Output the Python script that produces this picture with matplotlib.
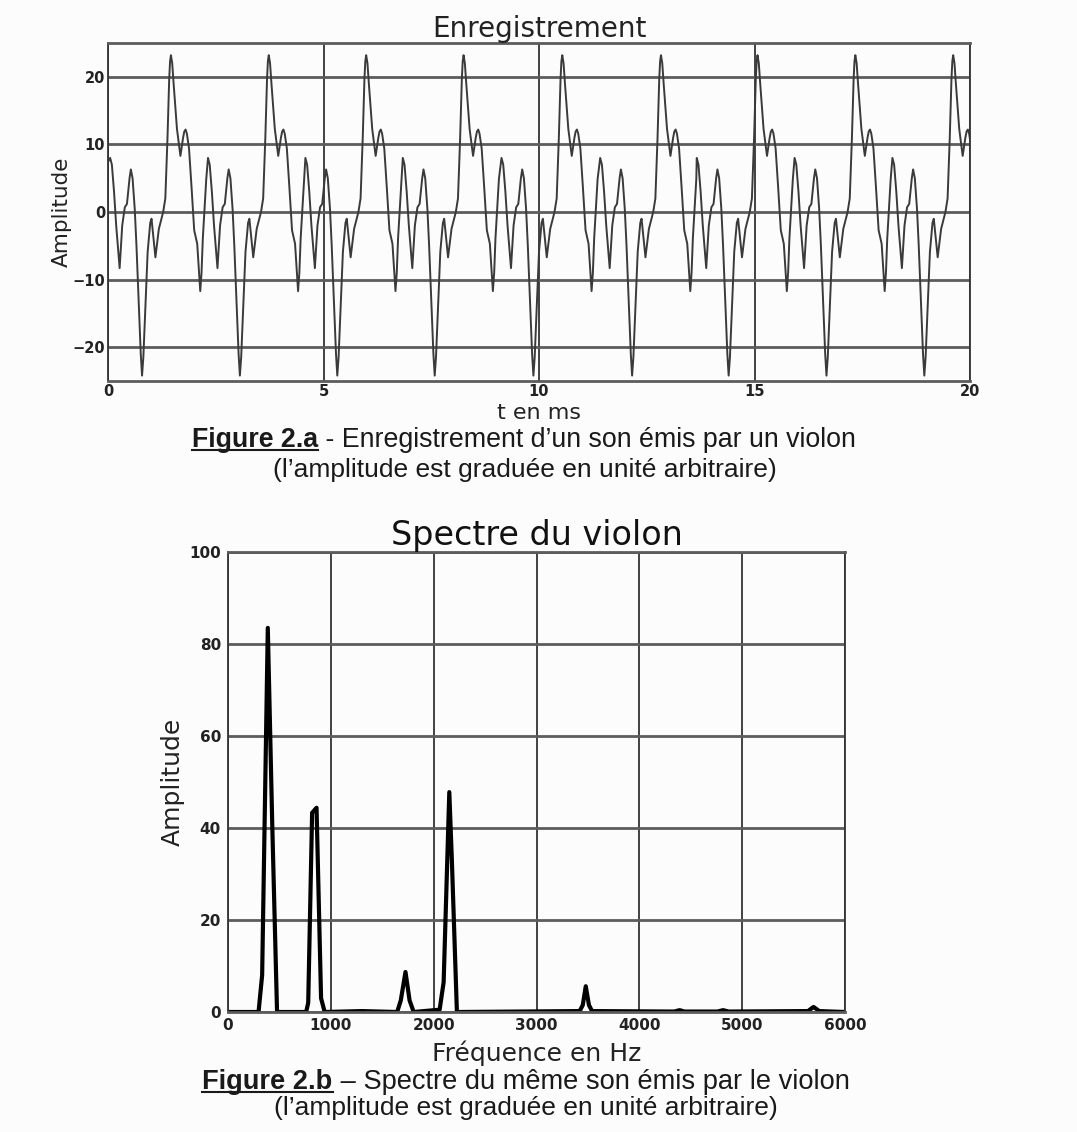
import matplotlib
matplotlib.use("Agg")
import matplotlib.pyplot as plt
from matplotlib.lines import Line2D
import numpy as np

# --- Figure 2.a : enregistrement (one period) ---
# times of the big positive peak of each period (ms)
peak_times = [1.46, 3.73, 5.99, 8.25, 10.54, 12.83, 15.07, 17.34, 19.61]
# shape of one period, offsets relative to the big peak (ms) and amplitude
period_offsets = [-1.41, -1.37, -1.32, -1.27, -1.19, -1.13, -1.07, -1.02, -0.96,
                  -0.93, -0.89, -0.84, -0.80, -0.74, -0.70, -0.67, -0.64, -0.60,
                  -0.54, -0.48, -0.45, -0.41, -0.36, -0.28, -0.18, -0.13, -0.08,
                  -0.04, -0.02, 0.00, 0.03, 0.06, 0.14, 0.22, 0.25, 0.28, 0.31,
                  0.34, 0.37, 0.42, 0.48, 0.54, 0.61, 0.68, 0.71, 0.74, 0.82]
period_values = [8.0, 7.0, 3.0, -2.0, -8.3, -2.0, 0.7, 1.2, 5.0,
                 6.3, 5.0, 0.5, -4.9, -14.8, -21.0, -24.2, -21.5, -15.3,
                 -5.9, -1.6, -1.0, -3.5, -6.7, -2.5, 0.0, 2.0, 10.9,
                 19.7, 22.3, 23.2, 22.0, 19.2, 12.3, 8.3, 9.6, 10.9, 11.9,
                 12.2, 11.6, 9.4, 3.5, -2.7, -4.7, -11.7, -9.0, -3.9, 4.9]
t_start, y_start = 0.0, 7.4

# --- Figure 2.b : spectre ---
freq = [0, 297, 332, 387, 430, 477, 760, 780, 818, 861, 905, 940, 1300,
        1645, 1680, 1726, 1766, 1806, 2058, 2097, 2152, 2177, 2226,
        3420, 3450, 3479, 3510, 3540, 4340, 4391, 4440, 4760, 4814, 4870,
        5640, 5694, 5750, 6000]
amp = [0, 0, 8, 83.5, 41, 0, 0, 2, 43.3, 44.4, 3, 0, 0.2,
       0, 2.5, 8.7, 2.5, 0, 0.5, 6.5, 47.8, 33, 0,
       0.2, 1.5, 5.6, 1.5, 0.2, 0.1, 0.4, 0.1, 0.1, 0.4, 0.1,
       0.2, 1.1, 0.2, 0]

t_ticks = [0, 5, 10, 15, 20]
a_ticks = [-20, -10, 0, 10, 20]
f_ticks = [0, 1000, 2000, 3000, 4000, 5000, 6000]
s_ticks = [0, 20, 40, 60, 80, 100]

W, H = 1077, 1132
BG = '#fcfcfc'
HGRID = '#5c5c5c'
VGRID = '#333333'

fig = plt.figure(figsize=(W / 100, H / 100), dpi=100, facecolor=BG)


def style_axes(ax, tick_size):
    ax.set_facecolor(BG)
    ax.grid(True, axis='y', color=HGRID, lw=2.0)
    ax.grid(True, axis='x', color=VGRID, lw=1.3)
    ax.set_axisbelow(True)
    for side in ('top', 'bottom'):
        ax.spines[side].set_color(HGRID)
        ax.spines[side].set_linewidth(2.0)
    for side in ('left', 'right'):
        ax.spines[side].set_color(VGRID)
        ax.spines[side].set_linewidth(1.3)
    ax.tick_params(length=0, labelsize=tick_size, colors='#222222')
    for lab in ax.get_xticklabels() + ax.get_yticklabels():
        lab.set_fontweight('bold')


# top chart
ax1 = fig.add_axes([108 / W, 1 - 381 / H, 862 / W, 338 / H])
t = [t_start] + list(np.concatenate([p + np.array(period_offsets) for p in peak_times]))
y = [y_start] + list(np.tile(period_values, len(peak_times)))
ax1.plot(t, y, color='#3a3a3a', lw=1.4, solid_joinstyle='round')
ax1.set_xlim(0, 20)
ax1.set_ylim(-25, 25)
ax1.set_xticks(t_ticks)
ax1.set_yticks(a_ticks)
ax1.set_yticklabels([f'\u2212{abs(v)}' if v < 0 else str(v) for v in a_ticks])
style_axes(ax1, 10.5)
ax1.tick_params(axis='x', pad=2)
ax1.tick_params(axis='y', pad=2)
ax1.set_title('Enregistrement', fontsize=20, pad=2, color='#222222')
ax1.set_xlabel('t en ms', fontsize=16, color='#222222')
ax1.xaxis.set_label_coords(0.5, -0.065)
ax1.xaxis.label.set_va('top')
ax1.set_ylabel('Amplitude', fontsize=15.5, color='#222222')
ax1.yaxis.set_label_coords(-0.042, 0.5)

# bottom chart
ax2 = fig.add_axes([228 / W, 1 - 1012 / H, 617 / W, 460 / H])
ax2.plot(freq, amp, color='black', lw=3.0, solid_joinstyle='round')
ax2.set_xlim(0, 6000)
ax2.set_ylim(0, 100)
ax2.set_xticks(f_ticks)
ax2.set_yticks(s_ticks)
style_axes(ax2, 11)
ax2.tick_params(axis='x', pad=4)
ax2.tick_params(axis='y', pad=5)
ax2.set_title('Spectre du violon', fontsize=24, pad=3, color='#111111')
ax2.set_xlabel('Fréquence en Hz', fontsize=18, color='#222222')
ax2.xaxis.set_label_coords(0.5, -0.061)
ax2.xaxis.label.set_va('top')
ax2.set_ylabel('Amplitude', fontsize=18, color='#222222')
ax2.yaxis.set_label_coords(-0.07, 0.5)

# captions (bold underlined part + regular part)
CAP_FONT = ['Liberation Sans', 'DejaVu Sans']
fig.canvas.draw()
renderer = fig.canvas.get_renderer()


def caption(base_px, bold_part, rest, center_px=525, size=19.3):
    yb = 1 - base_px / H
    t1 = fig.text(0, yb, bold_part, family=CAP_FONT, fontsize=size,
                  fontweight='bold', va='baseline', ha='left', color='#1a1a1a')
    t2 = fig.text(0, yb, rest, family=CAP_FONT, fontsize=size,
                  va='baseline', ha='left', color='#1a1a1a')
    w1 = t1.get_window_extent(renderer).width
    w2 = t2.get_window_extent(renderer).width if rest else 0
    x0 = center_px - (w1 + w2) / 2
    t1.set_x(x0 / W)
    t2.set_x((x0 + w1) / W)
    if bold_part.strip():
        uy = 1 - (base_px + 3) / H
        fig.add_artist(Line2D([x0 / W, (x0 + w1) / W], [uy, uy],
                              transform=fig.transFigure, color='#1a1a1a', lw=1.5))


caption(447, 'Figure 2.a', ' - Enregistrement d\u2019un son émis par un violon', 524)
caption(477, '', '(l\u2019amplitude est graduée en unité arbitraire)', 525, 19.0)
caption(1089, 'Figure 2.b', ' \u2013 Spectre du même son émis par le violon', 526, 19.6)
caption(1115, '', '(l\u2019amplitude est graduée en unité arbitraire)', 526, 19.0)

fig.savefig('out.png', dpi=100, facecolor=BG)
